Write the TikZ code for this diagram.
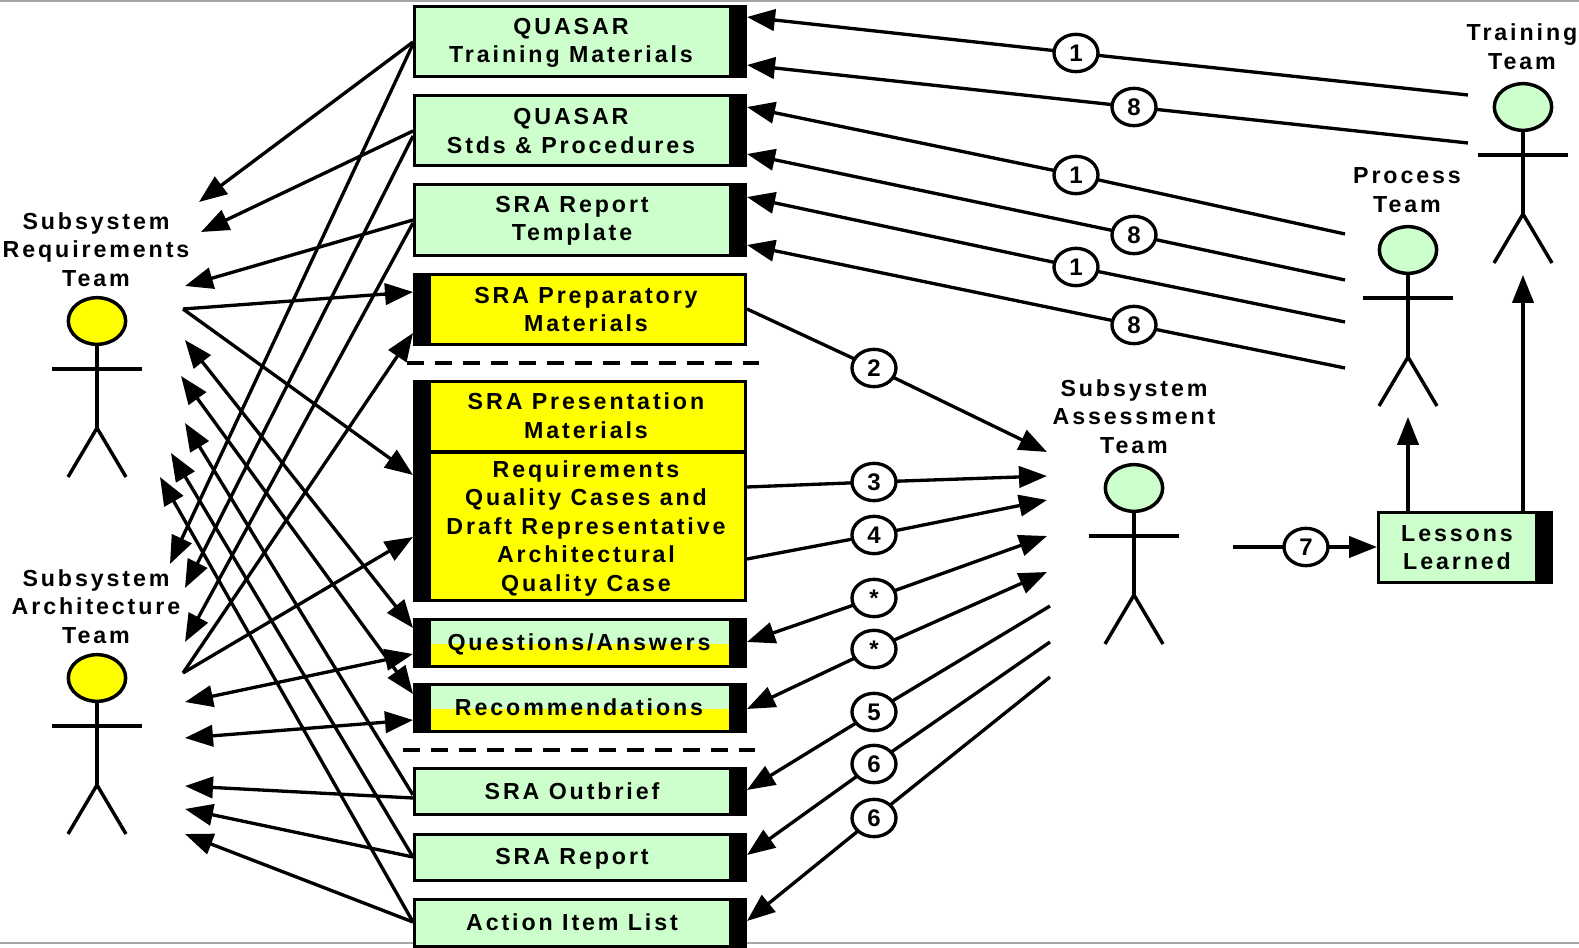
\documentclass[tikz,border=0pt]{standalone}
\usepackage{fontspec}
\setmainfont[LetterSpace=12.5]{Liberation Sans}
\newfontfamily\digitfont{Liberation Sans}
\usetikzlibrary{arrows.meta,shapes.geometric}
\definecolor{mint}{HTML}{CCFFCC}
\definecolor{sun}{HTML}{FFFF00}
\tikzset{
  x=0.75pt,y=-0.75pt,
  tipA/.tip={Triangle[length=21pt,width=16pt]},
  conn/.style={draw=black,line width=2.5pt},
  arrow/.style={conn,-{tipA}},
  both/.style={conn,{tipA}-{tipA}},
  boxbase/.style={rectangle,draw=black,line width=2.6pt,inner sep=0pt,outer sep=0pt},
  rbar/.style={path picture={\fill[black] ([xshift=-12pt]path picture bounding box.north east) rectangle (path picture bounding box.south east);}},
  lbar/.style={path picture={\fill[black] (path picture bounding box.north west) rectangle ([xshift=12pt]path picture bounding box.south west);}},
  rlbar/.style={path picture={
     \fill[sun] (path picture bounding box.south west) rectangle ([yshift=#1]path picture bounding box.south east);
     \fill[black] (path picture bounding box.north west) rectangle ([xshift=12pt]path picture bounding box.south west);
     \fill[black] ([xshift=-12pt]path picture bounding box.north east) rectangle (path picture bounding box.south east);}},
  lab/.style={font=\bfseries\fontsize{17.4}{21.4}\selectfont,align=center,inner sep=0pt,yshift=-1.8pt},
  num/.style={ellipse,draw=black,fill=white,line width=2.5pt,minimum width=33pt,minimum height=28pt,inner sep=0pt,outer sep=0pt,font=\digitfont\bfseries\fontsize{18}{18}\selectfont},
  head/.style={ellipse,draw=black,line width=2.6pt,minimum width=43pt,minimum height=35pt,inner sep=0pt,outer sep=0pt},
  limb/.style={draw=black,line width=2.6pt},
  dashline/.style={draw=black,line width=2.4pt,dash pattern=on 13pt off 8pt},
  rule/.style={draw=black!35,line width=1.2pt},
}
\newcommand\myactor[4]{%
  \node[head,fill=#4] (#1) at (#2,#3) {};
  \coordinate (#1hip) at (#2,#3+107);
  \coordinate (#1la) at (#2-45,#3+48);
  \coordinate (#1ra) at (#2+45,#3+48);
  \coordinate (#1neck) at (#2,#3+48);
  \coordinate (#1lf) at (#2-29,#3+156);
  \coordinate (#1rf) at (#2+29,#3+156);
  \draw[limb] (#1.south) -- (#1hip);
  \draw[limb] (#1la) -- (#1ra);
  \draw[limb] (#1lf) -- (#1hip) -- (#1rf);
}
% name, x1, y1, x2, y2, style (outer edges, px)
\newcommand\mybox[6]{%
  \node[boxbase,#6,minimum width={(#4-#2-3.5)*0.75pt},minimum height={(#5-#3-3.5)*0.75pt}] (#1) at ({(#2+#4)/2},{(#3+#5)/2}) {};
}
\begin{document}
\begin{tikzpicture}
\useasboundingbox (0,0) rectangle (1579,948);
\fill[white] (0,0) rectangle (1579,948);
\coordinate (tl) at (0,1); \coordinate (tr) at (1579,1);
\coordinate (bl) at (0,943); \coordinate (br) at (1579,943);
\draw[rule] (tl) -- (tr);
\draw[rule] (bl) -- (br);

% boxes
\mybox{b1}{413}{5}{747}{78}{fill=mint,rbar}
\mybox{b2}{413}{94}{747}{167}{fill=mint,rbar}
\mybox{b3}{413}{183}{747}{257}{fill=mint,rbar}
\mybox{b4}{413}{273}{747}{346}{fill=sun,lbar}
\mybox{b5}{413}{380}{747}{453}{fill=sun,lbar}
\mybox{b6}{413}{451}{747}{602}{fill=sun,lbar}
\mybox{b7}{413}{618}{747}{668}{fill=mint,rlbar=16.5pt}
\mybox{b8}{413}{683}{747}{733}{fill=mint,rlbar=16.5pt}
\mybox{b9}{413}{767}{747}{816}{fill=mint,rbar}
\mybox{b10}{413}{833}{747}{882}{fill=mint,rbar}
\mybox{b11}{413}{898}{747}{948}{fill=mint,rbar}
\mybox{b12}{1377}{511}{1553}{584}{fill=mint,rbar}

\node[lab] (t1) at (571,40.5) {QUASAR\\Training Materials};
\node[lab] (t2) at (571,128.5) {QUASAR\\Stds \& Procedures};
\node[lab] (t3) at (572,218.5) {SRA Report\\Template};
\node[lab] (t4) at (586,307) {SRA Preparatory\\Materials};
\node[lab] (t5) at (586,413.5) {SRA Presentation\\Materials};
\node[lab] (t6) at (586,526) {Requirements\\Quality Cases and\\Draft Representative\\Architectural\\Quality Case};
\node[lab] (t7) at (579,642) {Questions/Answers};
\node[lab] (t8) at (579,705) {Recommendations};
\node[lab] (t9) at (572,789) {SRA Outbrief};
\node[lab] (t10) at (572,856) {SRA Report};
\node[lab] (t11) at (572,920) {Action Item List};
\node[lab] (t12) at (1457,545) {Lessons\\Learned};

% actors
\myactor{req}{97}{321}{sun}
\myactor{arch}{97}{678}{sun}
\myactor{assess}{1134}{488}{mint}
\myactor{proc}{1408}{250}{mint}
\myactor{train}{1523}{107}{mint}

\node[lab] (lreq) at (96,247) {Subsystem\\Requirements\\Team};
\node[lab] (larch) at (96,604) {Subsystem\\Architecture\\Team};
\node[lab] (lassess) at (1134,414) {Subsystem\\Assessment\\Team};
\node[lab] (lproc) at (1407,188) {Process\\Team};
\node[lab] (ltrain) at (1522,44.5) {Training\\Team};

% dashed separators
\coordinate (d1a) at (407,363); \coordinate (d1b) at (759,363);
\coordinate (d2a) at (403,750); \coordinate (d2b) at (755,750);
\draw[dashline] (d1a) -- (d1b);
\draw[dashline] (d2a) -- (d2b);

% numbered circles
\node[num] (n1a) at (1076,53) {1};
\node[num] (n8a) at (1134,107) {8};
\node[num] (n1b) at (1076,175) {1};
\node[num] (n8b) at (1134,235) {8};
\node[num] (n1c) at (1076,267) {1};
\node[num] (n8c) at (1134,325) {8};
\node[num] (n2) at (874,368) {2};
\node[num] (n3) at (874,482) {3};
\node[num] (n4) at (874,535) {4};
\node[num] (ns1) at (874,598) {\raisebox{-0.25em}{*}};
\node[num] (ns2) at (874,649) {\raisebox{-0.25em}{*}};
\node[num] (n5) at (874,712) {5};
\node[num] (n6a) at (874,764) {6};
\node[num] (n6b) at (874,818) {6};
\node[num] (n7) at (1306,547) {7};

% right side ports
\coordinate (r1a) at (1468,95);  \coordinate (p1a) at (747,17);
\coordinate (r8a) at (1468,143); \coordinate (p8a) at (747,65);
\coordinate (r1b) at (1345,234); \coordinate (p1b) at (747,107);
\coordinate (r8b) at (1345,280); \coordinate (p8b) at (747,154);
\coordinate (r1c) at (1345,322); \coordinate (p1c) at (747,197);
\coordinate (r8c) at (1345,368); \coordinate (p8c) at (747,245);
\coordinate (p2) at (747,309);   \coordinate (a2) at (1047,452);
\coordinate (p3) at (747,487);   \coordinate (a3) at (1047,476);
\coordinate (p4) at (747,559);   \coordinate (a4) at (1047,500);
\coordinate (ps1) at (747,642);  \coordinate (as1) at (1047,536);
\coordinate (ps2) at (747,709);  \coordinate (as2) at (1047,572);
\coordinate (p5) at (747,790);   \coordinate (a5) at (1050,606);
\coordinate (p6a) at (747,855);  \coordinate (a6a) at (1050,642);
\coordinate (p6b) at (747,921);  \coordinate (a6b) at (1050,677);
\coordinate (s7) at (1233,547);  \coordinate (e7) at (1377,547);
\coordinate (u1s) at (1408,511); \coordinate (u1e) at (1408,417);
\coordinate (u2s) at (1523,511); \coordinate (u2e) at (1523,275);

\draw[conn] (r1a) -- (n1a); \draw[arrow] (n1a) -- (p1a);
\draw[conn] (r8a) -- (n8a); \draw[arrow] (n8a) -- (p8a);
\draw[conn] (r1b) -- (n1b); \draw[arrow] (n1b) -- (p1b);
\draw[conn] (r8b) -- (n8b); \draw[arrow] (n8b) -- (p8b);
\draw[conn] (r1c) -- (n1c); \draw[arrow] (n1c) -- (p1c);
\draw[conn] (r8c) -- (n8c); \draw[arrow] (n8c) -- (p8c);
\draw[conn] (p2) -- (n2);   \draw[arrow] (n2) -- (a2);
\draw[conn] (p3) -- (n3);   \draw[arrow] (n3) -- (a3);
\draw[conn] (p4) -- (n4);   \draw[arrow] (n4) -- (a4);
\draw[arrow] (ns1) -- (ps1); \draw[arrow] (ns1) -- (as1);
\draw[arrow] (ns2) -- (ps2); \draw[arrow] (ns2) -- (as2);
\draw[conn] (a5) -- (n5);   \draw[arrow] (n5) -- (p5);
\draw[conn] (a6a) -- (n6a); \draw[arrow] (n6a) -- (p6a);
\draw[conn] (a6b) -- (n6b); \draw[arrow] (n6b) -- (p6b);
\draw[conn] (s7) -- (n7);   \draw[arrow] (n7) -- (e7);
\draw[arrow] (u1s) -- (u1e);
\draw[arrow] (u2s) -- (u2e);

% left side ports
\coordinate (w1) at (413,42);   \coordinate (q1) at (199,202);
\coordinate (w2) at (413,131);  \coordinate (q2) at (201,232);
\coordinate (w3) at (413,220);  \coordinate (q3) at (185,286);
\coordinate (reqout) at (183,309);
\coordinate (w4) at (413,292);
\coordinate (w6) at (413,475);
\coordinate (w1b) at (413,44);  \coordinate (h1) at (170,564);
\coordinate (w2b) at (413,136); \coordinate (h2) at (185,588);
\coordinate (w3b) at (413,223); \coordinate (h3) at (185,642);
\coordinate (archout) at (183,673);
\coordinate (w4b) at (413,333);
\coordinate (w6b) at (413,537);
\coordinate (w7) at (413,654);  \coordinate (k7) at (185,702);
\coordinate (w8) at (413,720);  \coordinate (k8) at (185,738);
\coordinate (w9) at (413,798);  \coordinate (k9) at (185,786);
\coordinate (w10) at (413,857); \coordinate (k10) at (185,809);
\coordinate (w11) at (413,922); \coordinate (k11) at (185,834);
\coordinate (w7t) at (413,628); \coordinate (m7) at (185,340);
\coordinate (w8t) at (413,694); \coordinate (m8) at (181,376);
\coordinate (w9t) at (413,795); \coordinate (m9) at (185,423);
\coordinate (w10t) at (413,857); \coordinate (m10) at (171,453);
\coordinate (w11t) at (413,922); \coordinate (m11) at (160,477);

\draw[arrow] (w1) -- (q1);
\draw[arrow] (w2) -- (q2);
\draw[arrow] (w3) -- (q3);
\draw[arrow] (reqout) -- (w4);
\draw[arrow] (reqout) -- (w6);
\draw[arrow] (w1b) -- (h1);
\draw[arrow] (w2b) -- (h2);
\draw[arrow] (w3b) -- (h3);
\draw[arrow] (archout) -- (w4b);
\draw[arrow] (archout) -- (w6b);
\draw[both] (w7) -- (k7);
\draw[both] (w8) -- (k8);
\draw[arrow] (w9) -- (k9);
\draw[arrow] (w10) -- (k10);
\draw[arrow] (w11) -- (k11);
\draw[both] (w7t) -- (m7);
\draw[both] (w8t) -- (m8);
\draw[arrow] (w9t) -- (m9);
\draw[arrow] (w10t) -- (m10);
\draw[arrow] (w11t) -- (m11);
\end{tikzpicture}
\end{document}
